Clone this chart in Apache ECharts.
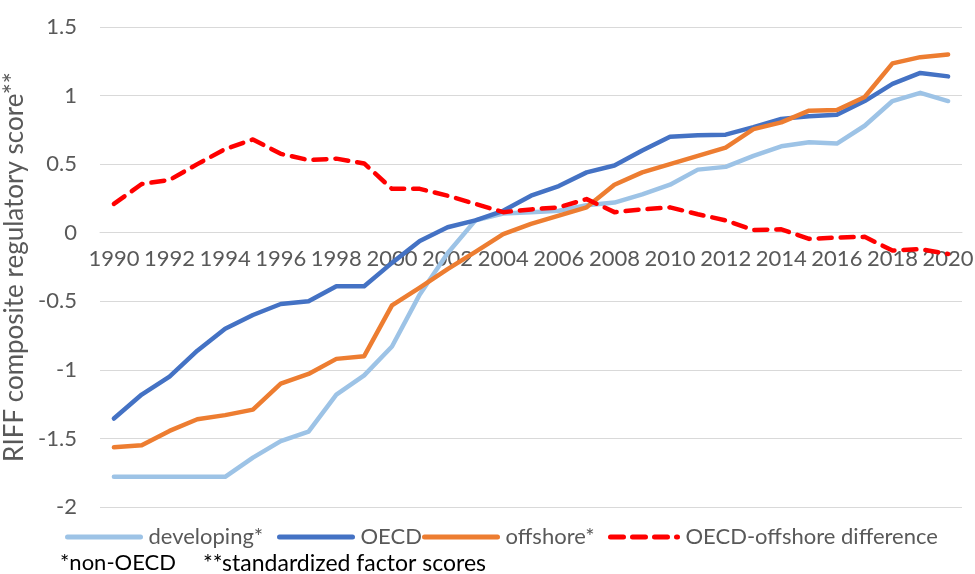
<!DOCTYPE html>
<html>
<head>
<meta charset="utf-8">
<script src="https://cdn.jsdelivr.net/npm/echarts@6/dist/echarts.min.js"></script>
<style>
html,body{margin:0;padding:0;background:#fff;}
#chart{width:975px;height:574px;}
</style>
</head>
<body>
<div id="chart"></div>
<script>
const years = ['1990','1991','1992','1993','1994','1995','1996','1997','1998','1999','2000','2001','2002','2003','2004','2005','2006','2007','2008','2009','2010','2011','2012','2013','2014','2015','2016','2017','2018','2019','2020'];
const developing = [-1.78,-1.78,-1.78,-1.78,-1.78,-1.64,-1.52,-1.45,-1.18,-1.04,-0.83,-0.45,-0.15,0.09,0.14,0.15,0.16,0.20,0.22,0.28,0.35,0.46,0.48,0.56,0.63,0.66,0.65,0.78,0.96,1.02,0.96];
const oecd = [-1.355,-1.18,-1.05,-0.86,-0.70,-0.60,-0.52,-0.50,-0.39,-0.39,-0.22,-0.06,0.04,0.09,0.16,0.27,0.34,0.44,0.49,0.60,0.70,0.71,0.715,0.77,0.83,0.85,0.86,0.96,1.085,1.165,1.14];
const offshore = [-1.565,-1.55,-1.445,-1.36,-1.33,-1.29,-1.10,-1.03,-0.92,-0.90,-0.53,-0.40,-0.265,-0.14,-0.01,0.065,0.125,0.185,0.35,0.44,0.50,0.56,0.62,0.755,0.805,0.89,0.895,0.99,1.235,1.28,1.30];
const difference = [0.21,0.355,0.385,0.50,0.61,0.68,0.575,0.53,0.54,0.505,0.32,0.32,0.27,0.21,0.15,0.17,0.185,0.245,0.15,0.17,0.185,0.135,0.09,0.02,0.025,-0.045,-0.035,-0.03,-0.13,-0.12,-0.155];
const seriesNames = ['developing*','OECD','offshore*','OECD-offshore difference'];
const yTitle = 'RIFF composite regulatory score**';
const footnotes = ['*non-OECD','**standardized factor scores'];

const FONT = 'Lato';
const chart = echarts.init(document.getElementById('chart'), null, {renderer:'canvas'});
function line(name, data, color, type){
  return {
    name, type:'line', data, symbol:'none', showSymbol:false,
    lineStyle:{color, width:4.5, type: type||'solid', cap:'round', join:'round'},
    itemStyle:{color},
    emphasis:{disabled:true}, animation:false
  };
}
const legendLefts = [60, 272, 417, 603];
chart.setOption({
  animation:false,
  textStyle:{fontFamily:FONT},
  grid:{left:100,right:13,top:27,bottom:67,containLabel:false,outerBoundsMode:'none'},
  xAxis:{
    type:'category', data:years, boundaryGap:true, position:'bottom', offset:0,
    axisLine:{show:true,onZero:false,lineStyle:{color:'#d9d9d9',width:1}},
    axisTick:{show:false},
    axisLabel:{interval:1,color:'#595959',fontSize:22,fontFamily:FONT,margin:15},
    splitLine:{show:false}
  },
  yAxis:{
    type:'value', min:-2, max:1.5, interval:0.5,
    name:yTitle, nameLocation:'middle', nameGap:68, nameRotate:90,
    nameTextStyle:{color:'#595959',fontSize:26,fontFamily:FONT},
    axisLine:{show:false}, axisTick:{show:false},
    axisLabel:{color:'#595959',fontSize:22,fontFamily:FONT,margin:23},
    splitLine:{show:true,lineStyle:{color:'#d9d9d9',width:1}}
  },
  legend: seriesNames.map((n,i)=>({
    data:[n], left:legendLefts[i], top:521, itemWidth: i===3?67:73, itemHeight:14,
    itemStyle:{opacity:0},
    lineStyle:{width:5},
    textStyle:{color:'#595959',fontSize:22,fontFamily:FONT,padding:[0,0,0,3]}
  })),
  graphic:[
    {type:'text', left:60, top:552, style:{text:footnotes[0], fill:'#000', fontSize:22, fontFamily:FONT}},
    {type:'text', left:203, top:552, style:{text:footnotes[1], fill:'#000', fontSize:23, fontFamily:FONT}}
  ],
  series:[
    line(seriesNames[0], developing, '#9DC3E6'),
    line(seriesNames[1], oecd, '#4472C4'),
    line(seriesNames[2], offshore, '#ED7D31'),
    line(seriesNames[3], difference, '#FF0000', [13,9])
  ]
});
// place the category axis on the value axis zero line (measured through the library's own scale)
const rect = chart.getModel().getComponent('grid').coordinateSystem.getRect();
const zeroY = chart.convertToPixel({yAxisIndex:0}, 0);
chart.setOption({xAxis:{offset: zeroY - (rect.y + rect.height)}});
</script>
</body>
</html>
